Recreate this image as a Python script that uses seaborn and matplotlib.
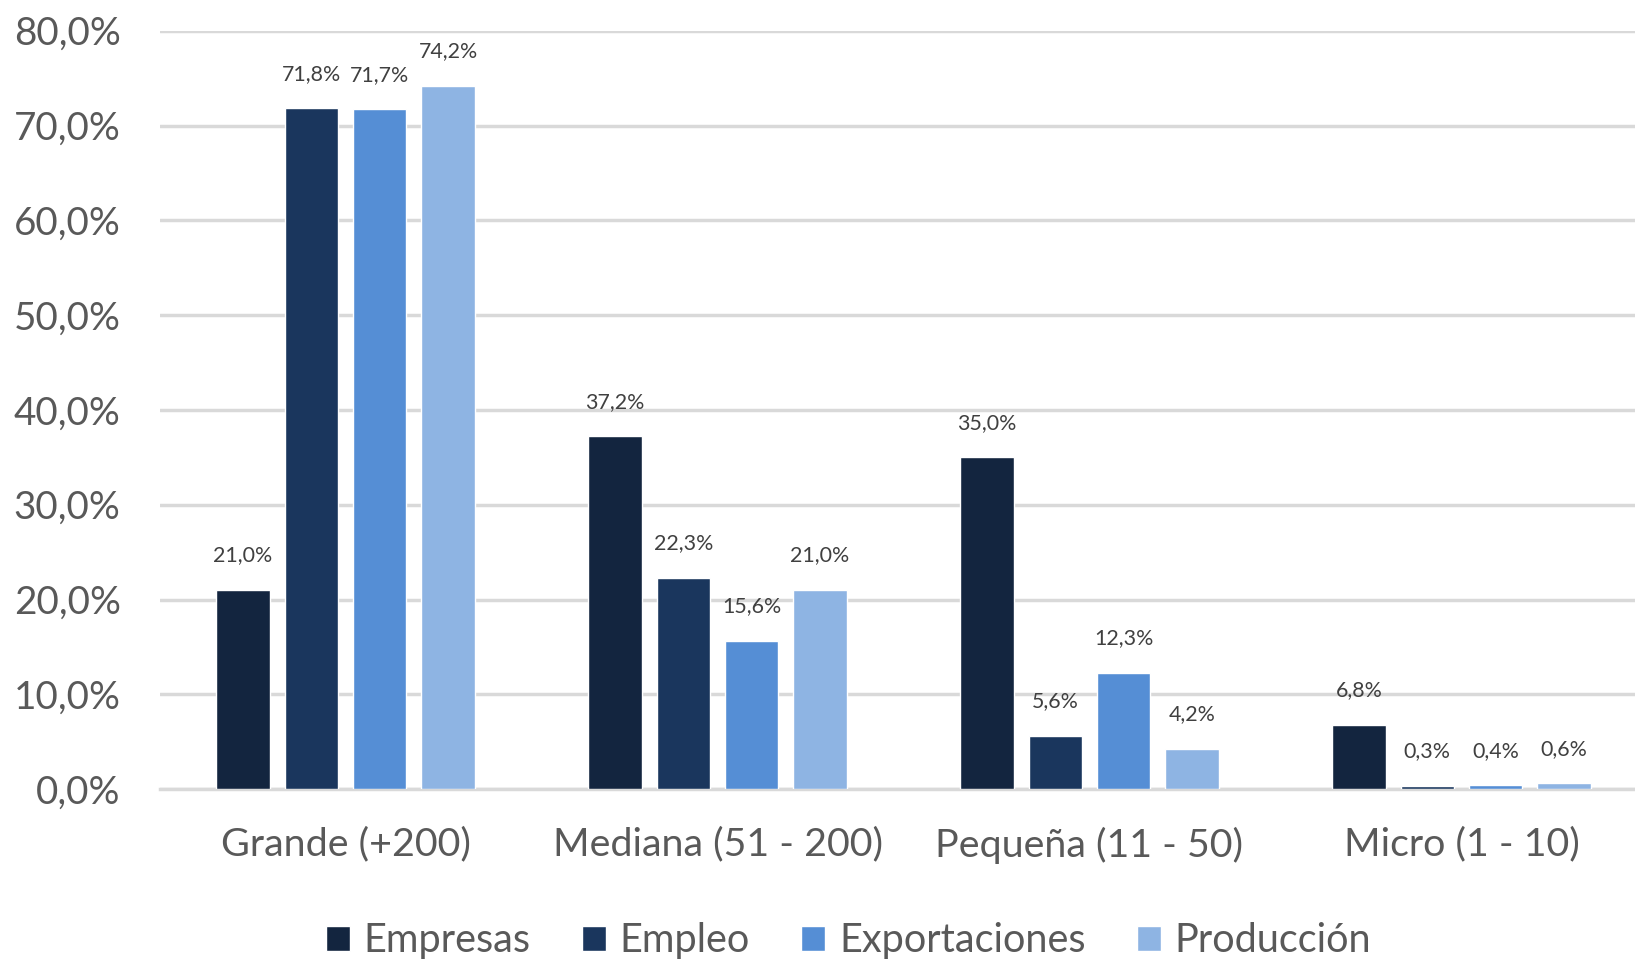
import pandas as pd
import matplotlib.pyplot as plt
import seaborn as sns

categorias = ["Grande (+200)", "Mediana (51 - 200)", "Pequeña (11 - 50)", "Micro (1 - 10)"]
series = ["Empresas", "Empleo", "Exportaciones", "Producción"]
empresas = [21.0, 37.2, 35.0, 6.8]
empleo = [71.8, 22.3, 5.6, 0.3]
exportaciones = [71.7, 15.6, 12.3, 0.4]
produccion = [74.2, 21.0, 4.2, 0.6]
colores = ["#13253F", "#1A365D", "#558ED5", "#8EB4E3"]

TEXT = "#595959"

rows = []
for s, vals in zip(series, [empresas, empleo, exportaciones, produccion]):
    for c, v in zip(categorias, vals):
        rows.append({"cat": c, "serie": s, "valor": v})
df = pd.DataFrame(rows)

sns.set_style("white")
plt.rcParams["font.family"] = ["Lato", "DejaVu Sans"]

fig = plt.figure(figsize=(16.35, 9.6), dpi=100)
ax = fig.add_axes([0.0976, 0.178, 0.910, 0.79])

sns.barplot(data=df, x="cat", y="valor", hue="serie", palette=colores,
            width=0.735, gap=0.22, saturation=1, ax=ax, legend=True,
            errorbar=None, zorder=3)

# data labels
for cont in ax.containers:
    for bar in cont:
        h = bar.get_height()
        ax.annotate(f"{h:.1f}%".replace(".", ","),
                    (bar.get_x() + bar.get_width() / 2, h),
                    xytext=(0, 25), textcoords="offset points",
                    ha="center", va="center", fontsize=15.4, color="#404040")

ax.set_ylim(0, 80)
ax.set_xlim(-0.5, 3.5)
ax.set_yticks(range(0, 81, 10))
ax.set_yticklabels([f"{v},0%" for v in range(0, 81, 10)])
ax.yaxis.grid(True, color="#D9D9D9", linewidth=2.5, zorder=0)
ax.set_axisbelow(True)
for sp in ["top", "right", "left"]:
    ax.spines[sp].set_visible(False)
ax.spines["bottom"].set_color("#D9D9D9")
ax.spines["bottom"].set_linewidth(2.5)
ax.tick_params(axis="y", length=0, pad=28, labelsize=27.8, labelcolor=TEXT)
ax.tick_params(axis="x", length=0, pad=27, labelsize=28.4, labelcolor=TEXT)
ax.set_xlabel("")
ax.set_ylabel("")

handles, labels = ax.get_legend_handles_labels()
ax.legend_.remove()
fig.legend(handles, labels, loc="center", bbox_to_anchor=(0.519, 0.02), ncol=4,
           frameon=False, fontsize=28.5, labelcolor=TEXT, handlelength=0.6,
           handleheight=0.6, handletextpad=0.35, columnspacing=1.3)

fig.savefig("out.png", dpi=100)
